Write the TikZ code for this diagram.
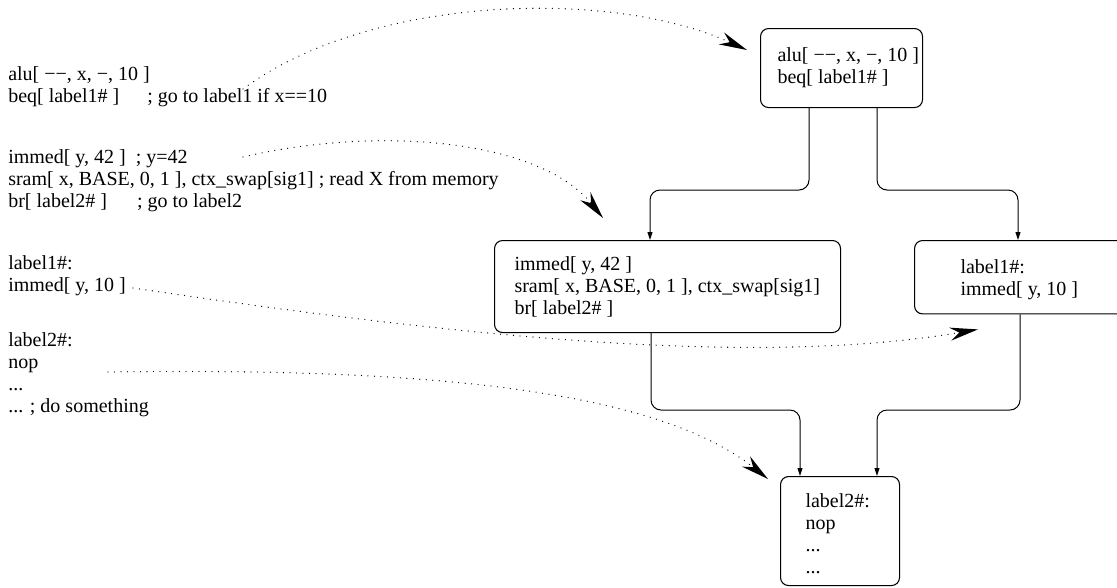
\documentclass[tikz,border=0pt]{standalone}
\usepackage{fontspec}
\setmainfont{Liberation Serif}
\usetikzlibrary{arrows.meta,calc}
\newlength\pu
\setlength\pu{0.75pt}
\newcommand\boxtxt[3]{\makebox[#1\pu][l]{\hspace*{#2\pu}\begin{tabular}{@{}l@{}}#3\end{tabular}}}
\newcommand\lefttab[1]{\begin{tabular}[t]{@{}l@{}}#1\end{tabular}}
\newcommand\lowerby[1]{\rule{0pt}{\dimexpr11.55pt+#1pt\relax}}
\begin{document}
\begin{tikzpicture}[x=0.75pt,y=-0.75pt,
  font=\fontsize{15}{16.5}\selectfont,
  blk/.style={draw, line width=0.8pt, rounded corners=6pt, inner sep=0pt, anchor=north west},
  lefttxt/.style={inner sep=0pt, anchor=base west},
  flow/.style={draw, line width=0.75pt, rounded corners=7.5pt, -{Triangle[length=6pt,width=3.75pt]}},
  ref/.style={draw, line width=0.975pt, dash pattern=on 0pt off 4.875pt, line cap=round,
    -{Stealth[length=21pt,width=9.75pt,inset=6.75pt]}}]
\useasboundingbox (0,0) rectangle (1117,587);

% left listing
\node[lefttxt] (t1) at (8,80) {\lefttab{alu[ −−, x, −, 10 ]\\beq[ label1\# ]\hspace{28\pu}; go to label1 if x==10}};
\node[lefttxt] (t2) at (8,163) {\lefttab{immed[ y, 42 ]\hspace{10\pu}; y=42\\sram[ x, BASE, 0, 1 ], ctx\_swap[sig1] ; read X from memory\\br[ label2\# ]\hspace{30\pu}; go to label2}};
\node[lefttxt] (t3) at (8,269) {\lefttab{label1\#:\\immed[ y, 10 ]}};
\node[lefttxt] (t4) at (8,346) {\lefttab{label2\#:\\nop\\...\\... ; do something}};

% flow graph
\node[blk, minimum height=59.25pt] (A) at (760,28) {\boxtxt{162}{17}{alu[ −−, x, −, 10 ]\\beq[ label1\# ]}};
\node[blk, minimum height=69pt] (B) at (494,240) {\boxtxt{346}{20}{\lowerby{2}immed[ y, 42 ]\\sram[ x, BASE, 0, 1 ], ctx\_swap[sig1]\\br[ label2\# ]}};
\node[blk, minimum height=55pt] (C) at (914,240) {\boxtxt{222}{46}{\lowerby{5}label1\#:\\immed[ y, 10 ]}};
\node[blk, minimum height=81.75pt] (D) at (780,476) {\boxtxt{119}{25}{\lowerby{7.5}label2\#:\\nop\\...\\...}};

\draw[flow] ($(A.south west)+(49,0)$) |- ($(B.north west)+(156,-50)$) -- ($(B.north west)+(156,0)$);
\draw[flow] ($(A.south west)+(117,0)$) |- ($(C.north west)+(104,-50)$) -- ($(C.north west)+(104,0)$);
\draw[flow] ($(B.south west)+(157,0)$) |- ($(D.north west)+(20,-66)$) -- ($(D.north west)+(20,0)$);
\draw[flow] ($(C.south west)+(106,0)$) |- ($(D.north west)+(97,-66)$) -- ($(D.north west)+(97,0)$);

% dotted references
\coordinate (s1) at (243,89);
\coordinate (s2) at (243,157);
\coordinate (s3) at (133,288);
\coordinate (s4) at (108,372);
\draw[ref] (s1) .. controls (370,-5) and (610,-12) .. ($(A.north west)+(-13,22)$);
\draw[ref] (s2) .. controls (380,125) and (540,140) .. ($(B.north west)+(109,-22)$);
\draw[ref] (s3) .. controls (450,335) and (750,368) .. ($(C.south west)+(64,15)$);
\draw[ref] (s4) .. controls (400,368) and (650,385) .. ($(D.north west)+(-12,3)$);
\end{tikzpicture}
\end{document}
